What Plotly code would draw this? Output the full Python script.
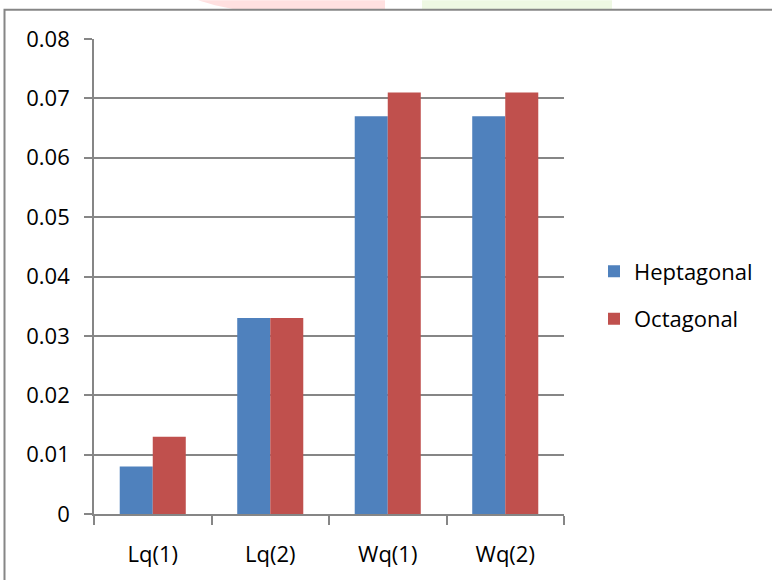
import plotly.graph_objects as go

# Queue metrics per scheme
categories = ["Lq(1)", "Lq(2)", "Wq(1)", "Wq(2)"]
heptagonal = [0.008, 0.033, 0.067, 0.067]
octagonal = [0.013, 0.033, 0.071, 0.071]
y_ticks = [0, 0.01, 0.02, 0.03, 0.04, 0.05, 0.06, 0.07, 0.08]

W, H = 772, 580
L, R, T, B = 94, 564, 39, 518  # plot area in pixels

def px(x):
    return (x - L) / (R - L)

def py(y):
    return (B - y) / (B - T)

GRID = "#868686"
FONT = dict(family="Open Sans, Arial, sans-serif", size=22, color="#000000")

fig = go.Figure()
fig.add_trace(go.Bar(name="Heptagonal", x=categories, y=heptagonal,
                     marker=dict(color="#4F81BD", line=dict(width=0)),
                     legendgroup="h"))
fig.add_trace(go.Bar(name="Octagonal", x=categories, y=octagonal,
                     marker=dict(color="#C0504D", line=dict(width=0)),
                     legendgroup="o"))

shapes = [
    # faint banner marks along the top edge
    dict(type="path", xref="paper", yref="paper", layer="below",
         path=f"M {px(198)},{py(0)} L {px(385)},{py(0)} L {px(385)},{py(9)} "
              f"L {px(234)},{py(9)} L {px(215)},{py(5)} Z",
         fillcolor="#FFE0E0", line=dict(width=0)),
    dict(type="rect", xref="paper", yref="paper", layer="below",
         x0=px(422), x1=px(612), y0=py(9), y1=py(0),
         fillcolor="#EEF8E3", line=dict(width=0)),
    # chart frame
    dict(type="rect", xref="paper", yref="paper",
         x0=px(4.5), x1=px(790), y0=py(600), y1=py(9.5),
         line=dict(color="#868686", width=2), fillcolor="rgba(0,0,0,0)"),
]

fig.update_layout(
    width=W, height=H,
    margin=dict(l=L, r=W - R, t=T, b=H - B, pad=0),
    paper_bgcolor="white", plot_bgcolor="white",
    font=FONT,
    barmode="group", bargap=0.438, bargroupgap=0,
    showlegend=True,
    legend=dict(x=px(594), y=py(297.5), xanchor="left", yanchor="middle",
                font=FONT, bgcolor="rgba(0,0,0,0)", tracegroupgap=16,
                traceorder="grouped", itemwidth=30),
    shapes=shapes,
    xaxis=dict(showline=True, linecolor=GRID, linewidth=1.7,
               ticks="outside", tickson="boundaries", ticklen=9,
               tickcolor=GRID, tickwidth=1.7, showgrid=False,
               ticklabelstandoff=20, tickfont=FONT),
    yaxis=dict(range=[0, 0.08], tickvals=y_ticks,
               ticktext=["0" if v == 0 else f"{v:.2f}" for v in y_ticks],
               showline=True, linecolor=GRID, linewidth=1.7,
               ticks="outside", ticklen=8, tickcolor=GRID, tickwidth=1.7,
               showgrid=True, gridcolor=GRID, gridwidth=1.7,
               zeroline=False, ticklabelstandoff=10, tickfont=FONT),
)

fig.write_html("out.html")
